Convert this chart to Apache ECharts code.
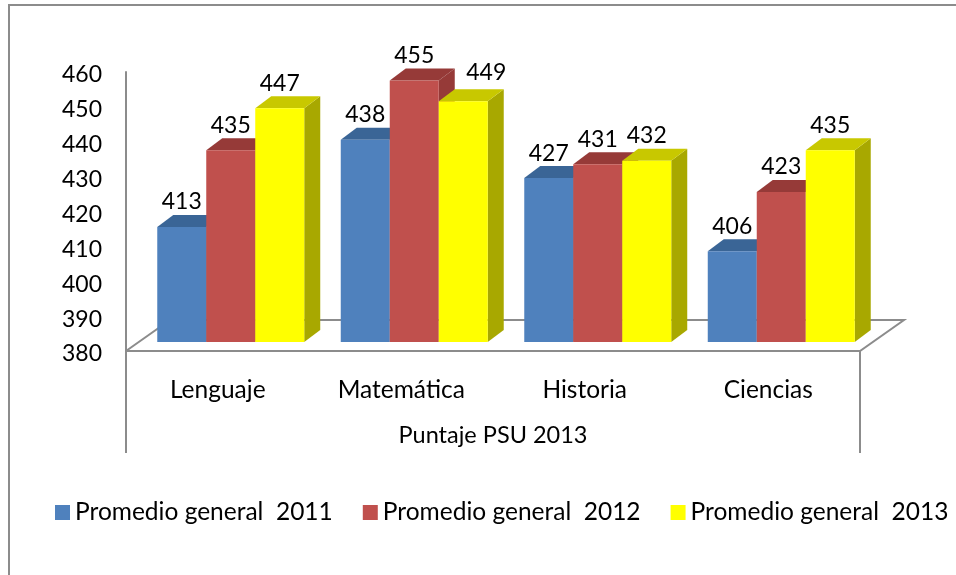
<!DOCTYPE html>
<html><head><meta charset="utf-8">
<style>html,body{margin:0;padding:0;background:#fff}#c{width:956px;height:575px}</style>
<script src="https://cdn.jsdelivr.net/npm/echarts@6/dist/echarts.min.js"></script>
</head><body><div id="c"></div>
<script>
const categories = ['Lenguaje', 'Matemática', 'Historia', 'Ciencias'];
const seriesNames = ['Promedio general  2011', 'Promedio general  2012', 'Promedio general  2013'];
const values2011 = [413, 438, 427, 406];
const values2012 = [435, 455, 431, 423];
const values2013 = [447, 449, 432, 435];
const axisTitle = 'Puntaje PSU 2013';

const FONT = 'Lato';
const GRAY = '#8c8c8c';
const palettes = [
  { front: '#4F81BD', top: '#3A6596', side: '#3A6596' },
  { front: '#C0504D', top: '#963A38', side: '#963A38' },
  { front: '#FFFF00', top: '#C8C800', side: '#A8A800' }
];

function makeRender(idx) {
  const p = palettes[idx];
  return function (params, api) {
    const cat = api.value(0), val = api.value(1);
    const band = api.size([1, 0])[0];
    const w = band * 0.267, dx = 16, dy = 12, lift = 9, shift = 13;
    const c = api.coord([cat, val]);
    const base = api.coord([cat, 380]);
    const x0 = c[0] + shift - 1.5 * w + idx * w, x1 = x0 + w;
    const yt = c[1] - lift, yb = base[1] - lift;
    // the 2013 Matemática label sits off to the right of its bar in the reference
    const moved = idx === 2 && cat === 1;
    const lx = (x0 + x1) / 2 + (moved ? 23 : 0);
    const ly = yt - 25 - (moved ? 4 : 0);
    return {
      type: 'group',
      children: [
        { type: 'polygon', shape: { points: [[x1, yt], [x1 + dx, yt - dy], [x1 + dx, yb - dy], [x1, yb]] }, style: { fill: p.side } },
        { type: 'polygon', shape: { points: [[x0, yt], [x0 + dx, yt - dy], [x1 + dx, yt - dy], [x1, yt]] }, style: { fill: p.top } },
        { type: 'rect', shape: { x: x0, y: yt, width: w, height: yb - yt }, style: { fill: p.front } },
        { type: 'text', style: { text: String(val), x: lx, y: ly, align: 'center', verticalAlign: 'middle', font: '23px ' + FONT, fill: '#000' } }
      ]
    };
  };
}

const seriesData = [values2011, values2012, values2013];
const chart = echarts.init(document.getElementById('c'), null, { renderer: 'canvas' });
chart.setOption({
  animation: false,
  backgroundColor: '#fff',
  grid: { left: 126, top: 72, width: 734, height: 279 },
  legend: {
    left: 50, top: 495, width: 906, itemWidth: 15, itemHeight: 15, itemGap: 30, icon: 'rect',
    data: seriesNames,
    textStyle: { fontFamily: FONT, fontSize: 24.5, color: '#000' }
  },
  xAxis: {
    type: 'category', data: categories,
    axisLine: { show: false }, axisTick: { show: false },
    axisLabel: { fontFamily: FONT, fontSize: 24.5, color: '#000', margin: 27 },
    name: axisTitle, nameLocation: 'center', nameGap: 72,
    nameTextStyle: { fontFamily: FONT, fontSize: 23.5, color: '#000' }
  },
  yAxis: {
    type: 'value', min: 380, max: 460, interval: 10,
    splitLine: { show: false }, axisTick: { show: false },
    axisLine: { show: true, lineStyle: { color: GRAY, width: 2 } },
    axisLabel: { fontFamily: FONT, fontSize: 23, color: '#000', margin: 24, verticalAlign: 'top', lineHeight: 6 }
  },
  graphic: [
    { type: 'rect', z: -1, shape: { x: 9, y: 5, width: 960, height: 600 }, style: { fill: 'none', stroke: GRAY, lineWidth: 2 } },
    { type: 'polyline', z: 0, shape: { points: [[126, 351], [170, 320], [904, 320], [860, 351], [126, 351]] }, style: { fill: 'none', stroke: GRAY, lineWidth: 2 } },
    { type: 'line', z: 0, shape: { x1: 126, y1: 351, x2: 126, y2: 453 }, style: { stroke: GRAY, lineWidth: 2 } },
    { type: 'line', z: 0, shape: { x1: 860, y1: 351, x2: 860, y2: 453 }, style: { stroke: GRAY, lineWidth: 2 } }
  ],
  series: seriesNames.map((name, i) => ({
    name, type: 'custom', z: 5 + i,
    itemStyle: { color: palettes[i].front },
    renderItem: makeRender(i),
    encode: { x: 0, y: 1 },
    clip: false,
    data: seriesData[i].map((v, j) => [j, v])
  }))
});
</script></body></html>
